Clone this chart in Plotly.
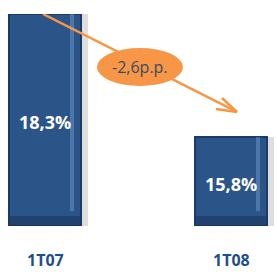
import plotly.graph_objects as go

categories = ["1T07", "1T08"]
values = [18.3, 15.8]
value_labels = ["18,3%", "15,8%"]
change_label = "-2,6p.p."

base = 14.0
x = list(range(len(categories)))
W = 0.387

fig = go.Figure()
# shadow
fig.add_trace(go.Bar(x=x, y=[v - base for v in values], base=base, width=W, offset=-W/2 + 0.04,
                     marker=dict(color="rgba(0,0,0,0.13)", line=dict(width=0)),
                     hoverinfo="skip", showlegend=False))
# main bars
fig.add_trace(go.Bar(x=x, y=[v - base for v in values], base=base, width=W, offset=-W/2,
                     marker=dict(color="#2B5489", line=dict(color="#1B3A66", width=2)),
                     hoverinfo="skip", showlegend=False))
# bevel highlight stripe
fig.add_trace(go.Bar(x=x, y=[v - base - 0.3 for v in values], base=base + 0.3, width=0.025,
                     offset=W/2 - 0.06,
                     marker=dict(color="rgba(130,170,225,0.4)", line=dict(width=0)),
                     hoverinfo="skip", showlegend=False))
# bottom bevel (darker)
fig.add_trace(go.Bar(x=x, y=[0.2, 0.2], base=base, width=W - 0.01, offset=-W/2 + 0.005,
                     marker=dict(color="rgba(15,35,70,0.35)", line=dict(width=0)),
                     hoverinfo="skip", showlegend=False))

def px2x(p):
    return (p - 45) / 186.0

def py2y(p):
    return base + (226 - p) / 49.3

# value labels
for xi, v, lab in zip(x, values, value_labels):
    fig.add_annotation(x=xi, y=base + (v - base) / 2, yshift=-2,
                       text=lab, showarrow=False,
                       font=dict(color="white", size=18, family="Open Sans", weight="bold"))

# category labels
for xi, c in zip(x, categories):
    fig.add_annotation(x=xi, y=0, yref="paper", yshift=-46, borderpad=0, text=c, showarrow=False,
                       font=dict(color="#1F4E8C", size=16, family="Open Sans", weight="bold"))

orange = "#F79646"
shapes = [
    dict(type="line", xref="x", yref="y", x0=px2x(43), y0=values[0], x1=px2x(237), y1=py2y(112),
         line=dict(color=orange, width=2.5)),
    dict(type="line", xref="x", yref="y", x0=px2x(222), y0=py2y(98), x1=px2x(237), y1=py2y(112),
         line=dict(color=orange, width=2.5)),
    dict(type="line", xref="x", yref="y", x0=px2x(216), y0=py2y(109), x1=px2x(237), y1=py2y(112),
         line=dict(color=orange, width=2.5)),
    dict(type="circle", xref="x", yref="y", x0=px2x(97), x1=px2x(183), y0=py2y(86), y1=py2y(48),
         fillcolor=orange, line=dict(width=0)),
]
fig.update_layout(shapes=shapes)
fig.add_annotation(x=px2x(140), y=py2y(67), text=change_label, showarrow=False,
                   font=dict(color="#3B4A63", size=16, family="Open Sans"))

fig.update_layout(
    width=277, height=272,
    margin=dict(l=0, r=0, t=14, b=46),
    paper_bgcolor="white", plot_bgcolor="white",
    barmode="overlay", bargap=0,
    xaxis=dict(range=[px2x(0), px2x(277)], showticklabels=False,
               showgrid=False, zeroline=False, showline=False, ticks=""),
    yaxis=dict(range=[base, values[0]], visible=False, showgrid=False),
)
fig.write_html("out.html", config={"displayModeBar": False},
               post_script="document.body.style.margin='0';")
